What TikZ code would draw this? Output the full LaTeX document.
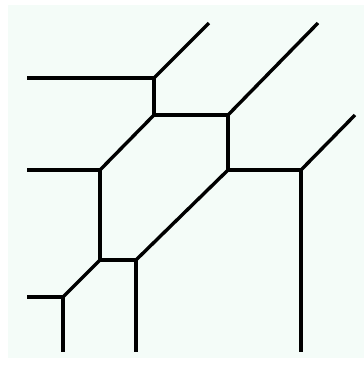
\documentclass[tikz,border=0pt]{standalone}
\usepackage{xcolor}
\definecolor{bgmint}{HTML}{F4FCF8}
\begin{document}
\begin{tikzpicture}[
	x=1pt, y=-1pt,
	edge/.style={draw=black, line width=3.4pt},
	ray/.style={draw=black, line width=3.4pt}
	]
	\useasboundingbox (0,0) rectangle (364,368);
	\fill[white] (0,0) rectangle (364,368);
	\fill[bgmint] (8,5) rectangle (364,358);

	% --- vertices ---
	\coordinate (a) at (154,78);
	\coordinate (b) at (154,115);
	\coordinate (c) at (228,115);
	\coordinate (d) at (228,170);
	\coordinate (e) at (301,170);
	\coordinate (f) at (100,170);
	\coordinate (g) at (100,260);
	\coordinate (h) at (136,260);
	\coordinate (i) at (63,297);

	% --- free ends ---
	\coordinate (aw) at (27,78);
	\coordinate (ane) at (209,23);
	\coordinate (cne) at (318,23);
	\coordinate (ene) at (355,115);
	\coordinate (es) at (301,352);
	\coordinate (fw) at (27,170);
	\coordinate (hs) at (136,352);
	\coordinate (iw) at (27,297);
	\coordinate (is) at (63,352);

	% --- bounded edges ---
	\draw[edge] (a) -- (b);
	\draw[edge] (b) -- (c);
	\draw[edge] (c) -- (d);
	\draw[edge] (d) -- (e);
	\draw[edge] (b) -- (f);
	\draw[edge] (f) -- (g);
	\draw[edge] (g) -- (h);
	\draw[edge] (h) -- (d);
	\draw[edge] (g) -- (i);

	% --- unbounded rays ---
	\draw[ray] (a) -- (aw);
	\draw[ray] (a) -- (ane);
	\draw[ray] (c) -- (cne);
	\draw[ray] (e) -- (ene);
	\draw[ray] (e) -- (es);
	\draw[ray] (f) -- (fw);
	\draw[ray] (h) -- (hs);
	\draw[ray] (i) -- (iw);
	\draw[ray] (i) -- (is);
\end{tikzpicture}
\end{document}
